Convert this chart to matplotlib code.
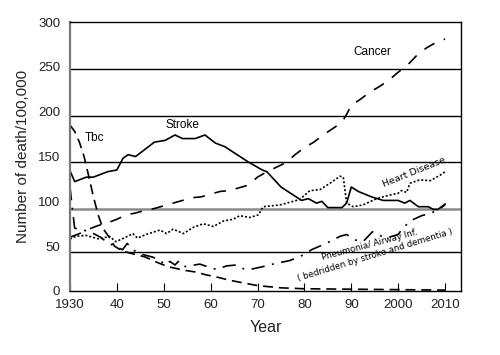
import matplotlib
matplotlib.use("Agg")
import matplotlib.pyplot as plt

# ---------------- data ----------------
stroke_years = [1930, 1931, 1933.5, 1935, 1938, 1940, 1941.3, 1942.4, 1944, 1948, 1950.3, 1952.4, 1954,
                1956.7, 1958.8, 1961, 1963, 1968, 1971, 1972, 1975, 1979.4, 1980.8, 1982.6, 1983.7,
                1985, 1988, 1989, 1990, 1991.5, 1994.3, 1996.8, 2000, 2001.4, 2002.5, 2004.3, 2006.4,
                2007.5, 2008.5, 2010]
stroke_vals = [134, 122, 127, 127, 133, 135, 148, 152, 150, 166, 168, 174, 170,
               170, 174, 165, 161, 144, 135, 133, 116, 101, 103, 98, 100,
               93, 93, 98, 116, 111, 105, 101, 101, 98, 101, 94, 94,
               91, 91, 97]

cancer_years = [1930, 1932, 1934, 1936, 1938, 1940, 1942, 1944, 1946, 1948, 1950, 1952, 1954, 1956,
                1958, 1960, 1962, 1964, 1966, 1968, 1970, 1972, 1974, 1976, 1978, 1980, 1982, 1984,
                1986, 1988, 1989, 1990, 1992, 1994, 1996, 1998, 2000, 2002, 2004, 2006, 2008, 2010]
cancer_vals = [60, 64, 69, 73, 76, 80, 85, 87, 90, 92, 95, 98, 101, 104,
               105, 108, 111, 112, 115, 118, 127, 133, 138, 143, 152, 160, 166, 174,
               181, 188, 197, 207, 214, 222, 228, 235, 244, 252, 263, 271, 277, 281]

tbc_years = [1930, 1931, 1932, 1933, 1934, 1935, 1936, 1937, 1938.5, 1939.5, 1941, 1943, 1946, 1949,
             1951, 1954.5, 1957, 1959, 1961, 1964, 1966, 1968, 1970, 1972, 1975, 1980, 1990, 2000, 2010]
tbc_vals = [185, 178, 166, 150, 128, 105, 85, 70, 59, 50, 45, 42, 38, 31,
            27, 23, 21, 18, 16, 12, 10, 8, 6, 5, 3.5, 2.5, 2, 1.5, 1]

heart_years = [1930, 1931.3, 1933.4, 1936.2, 1938.4, 1939.8, 1941.9, 1943.4, 1944.4, 1946.2, 1948,
               1949.2, 1950.6, 1952, 1954.2, 1956.3, 1958.4, 1960.6, 1962.7, 1964.8, 1966.2, 1968.4,
               1970.2, 1971.2, 1974.8, 1979, 1981.2, 1983.3, 1985.4, 1987.6, 1988.3, 1989, 1990.4,
               1992.5, 1995.4, 1998.2, 2000, 2000.7, 2001.8, 2002.5, 2004.6, 2006.8, 2008.9, 2010]
heart_vals = [58, 61, 62, 58, 61, 55, 60, 64, 59, 63, 66,
              68, 64, 69, 64, 71, 75, 72, 78, 80, 84, 82,
              85, 94, 96, 102, 112, 113, 120, 128, 127, 98, 94,
              96, 103, 107, 109, 112, 110, 120, 124, 123, 129, 133]

pneu_years = [1930, 1930.5, 1931, 1932.8, 1934.3, 1936.5, 1938, 1940, 1941.2, 1942.2, 1943.3, 1944.5,
              1946, 1947.5, 1949, 1950.3, 1951.3, 1952.4, 1953.1, 1954.2, 1957.7, 1958.8, 1961.3,
              1963.4, 1965.5, 1967.3, 1968.4, 1971, 1973.3, 1976.9, 1979.7, 1981.5, 1983.7, 1985.4,
              1987.6, 1989, 1990.8, 1992.5, 1994.5, 1996.5, 1998, 2000, 2001.1, 2002.9, 2005, 2007.1,
              2008.9, 2010]
pneu_vals = [116, 92, 70, 68, 66, 60, 54, 49, 46, 53, 47, 42,
             40, 38, 35, 29, 33, 29, 33, 27, 30, 28, 24,
             28, 29, 24, 24, 27, 30, 34, 40, 46, 51, 55,
             61, 63, 57, 55, 66, 61, 60, 63, 71, 79, 84, 87,
             92, 96]

x_ticks = [1930, 1940, 1950, 1960, 1970, 1980, 1990, 2000, 2010]
x_ticklabels = ["1930", "40", "50", "60", "70", "80", "90", "2000", "2010"]
y_ticks = [0, 50, 100, 150, 200, 250, 300]
# horizontal rules as drawn in the (scanned) reference
rule_levels = [43.5, 144, 195, 247.5]
gray_rule_level = 91

plt.rcParams['font.family'] = ['Liberation Sans', 'DejaVu Sans']

fig = plt.figure(figsize=(5.0, 3.55), dpi=100)
ax = fig.add_axes([0.14, 0.1803, 0.782, 0.7577])

lw = 1.2
ax.plot(stroke_years, stroke_vals, color='black', lw=lw, ls='-')
ax.plot(cancer_years, cancer_vals, color='black', lw=lw, ls=(0, (7, 6)))
ax.plot(tbc_years, tbc_vals, color='black', lw=lw, ls=(0, (6, 3.5)))
ax.plot(heart_years, heart_vals, color='black', lw=lw, ls=(0, (1.2, 1.2)))
ax.plot(pneu_years, pneu_vals, color='black', lw=lw, ls=(0, (8, 4.5, 1.2, 4.5)))

for lv in rule_levels:
    ax.axhline(lv, color='black', lw=1.0, zorder=0.5)
ax.axhline(gray_rule_level, color='#8a8a8a', lw=1.8, zorder=0.5)

ax.set_xlim(1930, 2013.4)
ax.set_ylim(0, 300)
ax.set_xticks(x_ticks)
ax.set_xticklabels(x_ticklabels, fontsize=9.5, color='#222222')
ax.set_yticks(y_ticks)
ax.set_yticklabels([str(v) for v in y_ticks], fontsize=9.5, color='#222222')
ax.tick_params(axis='x', direction='in', length=6, width=0.8, pad=6)
ax.tick_params(axis='y', length=0, pad=7)

for s in ['top', 'right', 'bottom']:
    ax.spines[s].set_linewidth(1.0)
    ax.spines[s].set_color('black')
ax.spines['left'].set_color('#7a7a7a')
ax.spines['left'].set_linewidth(1.6)

ax.set_xlabel('Year', fontsize=11.5, labelpad=6, color='#222222')
ax.set_ylabel('Number of death/100,000', fontsize=11, labelpad=6, color='#222222')

ax.text(1935.2, 171, 'Tbc', fontsize=8.5, ha='center', va='center')
ax.text(1954, 185, 'Stroke', fontsize=8.5, ha='center', va='center')
ax.text(1994.5, 267, 'Cancer', fontsize=8.5, ha='center', va='center')
ax.text(2003.5, 133, 'Heart Disease', fontsize=6.8, ha='center', va='center', rotation=22,
        family=['DejaVu Sans'])
ax.text(1993.8, 51, 'Pneumonia/ Airway Inf.', fontsize=6.2, ha='center', va='center', rotation=15,
        family=['DejaVu Sans'])
ax.text(1995, 40, '( bedridden by stroke and dementia )', fontsize=6.2, ha='center', va='center',
        rotation=17, family=['DejaVu Sans'])

fig.savefig('out.png', dpi=100)
